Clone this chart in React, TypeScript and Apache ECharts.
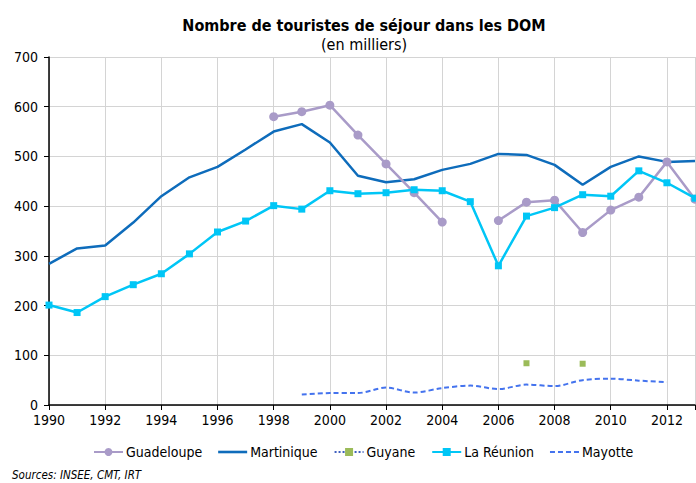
import React, { useEffect, useRef } from "react";
import * as echarts from "echarts";

const years = [1990, 1991, 1992, 1993, 1994, 1995, 1996, 1997, 1998, 1999, 2000, 2001, 2002, 2003, 2004, 2005, 2006, 2007, 2008, 2009, 2010, 2011, 2012, 2013];

const guadeloupe = [null, null, null, null, null, null, null, null, 580, 590, 603, 543, 485, 427, 368, null, 371, 408, 412, 347, 392, 418, 489, 414];
const martinique = [284, 315, 321, 367, 420, 458, 479, 514, 550, 565, 528, 461, 448, 454, 473, 485, 505, 503, 483, 443, 479, 500, 489, 491];
const guyane = [null, null, null, null, null, null, null, null, null, null, null, null, null, null, null, null, null, 84, null, 83, null, null, null, null];
const reunion = [201, 186, 218, 242, 264, 304, 348, 370, 401, 394, 431, 425, 427, 433, 431, 409, 280, 380, 397, 423, 420, 471, 447, 416];
const mayotte = [null, null, null, null, null, null, null, null, null, 21, 24, 24, 35, 25, 34, 39, 32, 41, 38, 50, 53, 49, 46, null];

const pairs = (vals: (number | null)[]) => years.map((y, i) => [y, vals[i]]);

const FONT = "'DejaVu Sans Condensed', 'DejaVu Sans', sans-serif";

const SOLID_ICON = "path://M0,0H29V2.6H0Z";
const DASH_ICON = "path://M0,0H5V2H0Z M8,0H13V2H8Z M16,0H21V2H16Z M24,0H29V2H24Z";

export default function App() {
  const ref = useRef<HTMLDivElement>(null);
  useEffect(() => {
    if (!ref.current) return;
    const chart = echarts.init(ref.current, undefined, { renderer: "svg" });
    chart.setOption({
      animation: false,
      textStyle: { fontFamily: FONT },
      title: {
        text: "Nombre de touristes de séjour dans les DOM",
        subtext: "(en milliers)",
        left: 359,
        textAlign: "center",
        top: 12,
        itemGap: 3,
        textStyle: { fontFamily: FONT, fontSize: 16, fontWeight: "bold", color: "#000" },
        subtextStyle: { fontFamily: FONT, fontSize: 16, color: "#000" },
      },
      grid: { left: 49, right: 0, top: 57, bottom: 78, containLabel: false },
      xAxis: {
        type: "value",
        min: 1990,
        max: 2013,
        interval: 2,
        axisLine: { show: true, lineStyle: { color: "#000", width: 1.5 } },
        axisTick: { show: true, length: 5, lineStyle: { color: "#000" } },
        axisLabel: {
          color: "#000",
          fontSize: 14,
          lineHeight: 14,
          fontFamily: FONT,
          margin: 8,
          formatter: (v: number) => (v % 2 === 0 ? String(v) : ""),
        },
        splitLine: { show: true, lineStyle: { color: "#d4d4d4", width: 1 } },
      },
      yAxis: {
        type: "value",
        min: 0,
        max: 700,
        interval: 100,
        axisLine: { show: true, lineStyle: { color: "#000", width: 1.5 } },
        axisTick: { show: true, length: 5, lineStyle: { color: "#000" } },
        axisLabel: { color: "#000", fontSize: 14, lineHeight: 14, fontFamily: FONT, margin: 11 },
        splitLine: { show: true, lineStyle: { color: "#d4d4d4", width: 1 } },
      },
      legend: {
        bottom: 19,
        left: 88,
        itemWidth: 29,
        itemHeight: 10,
        itemGap: 16,
        textStyle: { fontSize: 14, color: "#000", fontFamily: FONT, padding: [0, 0, 0, -2] },
        data: [
          { name: "Guadeloupe" },
          { name: "Martinique", icon: SOLID_ICON },
          { name: "Guyane" },
          { name: "La Réunion" },
          { name: "Mayotte", icon: DASH_ICON },
        ],
      },
      graphic: [
        {
          type: "text",
          left: 12,
          top: 469,
          style: {
            text: "Sources: INSEE, CMT, IRT",
            fontSize: 11.5,
            fontStyle: "italic",
            fontFamily: FONT,
            fill: "#000",
          },
        },
      ],
      series: [
        {
          name: "Guadeloupe",
          type: "line",
          data: pairs(guadeloupe),
          symbol: "circle",
          symbolSize: 9,
          lineStyle: { color: "#A99BC8", width: 2.5 },
          itemStyle: { color: "#A99BC8" },
          z: 3,
        },
        {
          name: "Martinique",
          type: "line",
          data: pairs(martinique),
          symbol: "none",
          lineStyle: { color: "#0E6CBB", width: 2.5 },
          itemStyle: { color: "#0E6CBB" },
          z: 2,
        },
        {
          name: "Guyane",
          type: "line",
          data: pairs(guyane),
          symbol: "rect",
          symbolSize: 6,
          showSymbol: true,
          lineStyle: { color: "#3F5FBF", width: 1, type: "dotted" },
          itemStyle: { color: "#9BBB59" },
        },
        {
          name: "La Réunion",
          type: "line",
          data: pairs(reunion),
          symbol: "rect",
          symbolSize: 7,
          lineStyle: { color: "#00C6F6", width: 2.5 },
          itemStyle: { color: "#00C6F6" },
          z: 4,
        },
        {
          name: "Mayotte",
          type: "line",
          data: pairs(mayotte),
          symbol: "none",
          smooth: 0.3,
          lineStyle: { color: "#4473EE", width: 2, type: [5, 3] },
          itemStyle: { color: "#4473EE" },
        },
      ],
    });
    return () => chart.dispose();
  }, []);
  return (
    <div style={{ position: "absolute", left: 0, top: 0, width: 696, height: 483, overflow: "hidden", background: "#fff" }}>
      <div ref={ref} style={{ width: 698, height: 483 }} />
    </div>
  );
}
